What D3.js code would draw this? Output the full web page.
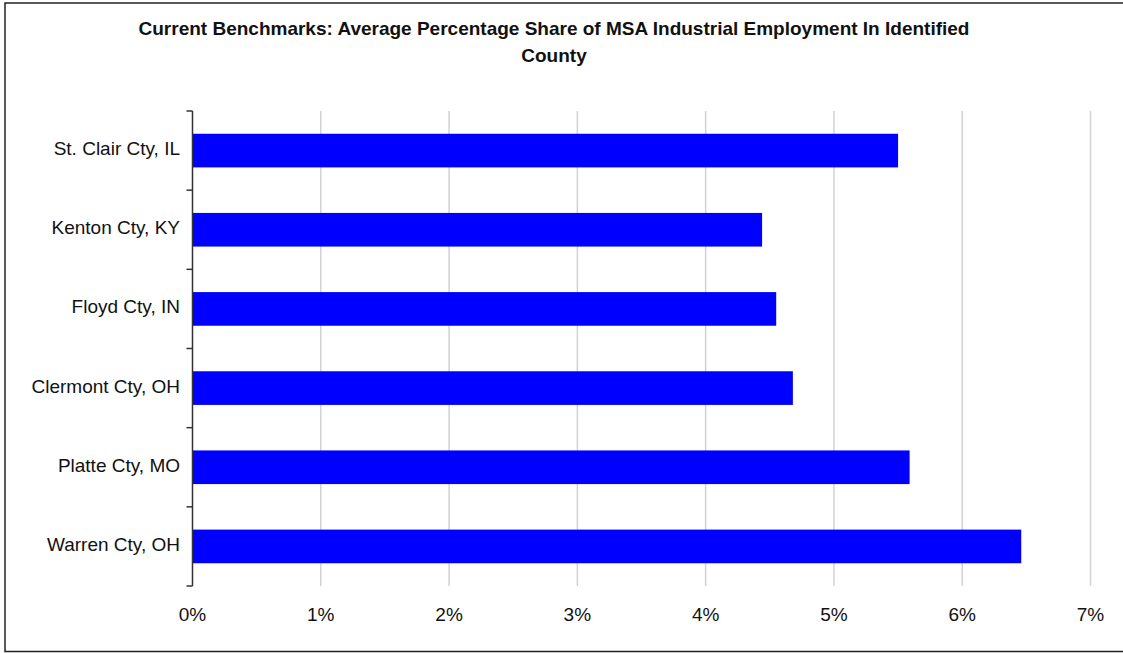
<!DOCTYPE html>
<html>
<head>
<meta charset="utf-8">
<script src="https://cdn.jsdelivr.net/npm/d3@7"></script>
<style>
  body { margin: 0; background: #fff; }
  svg { display: block; font-family: "Liberation Sans", Arial, sans-serif; }
</style>
</head>
<body>
<div id="chart"></div>
<script>
let width = 1123;
let height = 653;

// data, top to bottom as shown
let counties = ['St. Clair Cty, IL', 'Kenton Cty, KY', 'Floyd Cty, IN', 'Clermont Cty, OH', 'Platte Cty, MO', 'Warren Cty, OH'];
let shares = [5.50, 4.44, 4.55, 4.68, 5.59, 6.46];
let xTicks = [0, 1, 2, 3, 4, 5, 6, 7];
let titleLines = ['Current Benchmarks: Average Percentage Share of MSA Industrial Employment In Identified', 'County'];

let data = counties.map((c, i) => ({ county: c, value: shares[i] }));

let plot = { left: 192.5, right: 1090.5, top: 111, bottom: 586 };

let svg = d3.select('#chart')
    .append('svg')
    .attr('width', width)
    .attr('height', height);

// outer frame (right edge runs off the picture)
svg.append('rect')
    .attr('x', 5)
    .attr('y', 3)
    .attr('width', 1140)
    .attr('height', 648.5)
    .attr('fill', '#fff')
    .attr('stroke', '#222')
    .attr('stroke-width', 1.5);

let xScale = d3.scaleLinear()
    .domain([0, 7])
    .range([plot.left, plot.right]);

let yScale = d3.scaleBand()
    .domain(counties)
    .range([plot.top, plot.bottom])
    .paddingInner(0.575)
    .paddingOuter(0.2875);

// gridlines
svg.append('g')
    .selectAll('line')
    .data(xTicks.slice(1))
    .enter()
    .append('line')
    .attr('x1', d => xScale(d))
    .attr('x2', d => xScale(d))
    .attr('y1', plot.top)
    .attr('y2', plot.bottom)
    .attr('stroke', '#d2d2d2')
    .attr('stroke-width', 1.5);

// bars
svg.append('g')
    .selectAll('rect')
    .data(data)
    .enter()
    .append('rect')
    .attr('x', xScale(0))
    .attr('y', d => yScale(d.county))
    .attr('width', d => xScale(d.value) - xScale(0))
    .attr('height', yScale.bandwidth())
    .attr('fill', '#0000ff');

// y axis line + ticks at category boundaries
let step = yScale.step();
let bounds = d3.range(counties.length + 1).map(i => plot.top + i * step);

svg.append('line')
    .attr('x1', plot.left)
    .attr('x2', plot.left)
    .attr('y1', plot.top)
    .attr('y2', plot.bottom)
    .attr('stroke', '#333')
    .attr('stroke-width', 1.5);

svg.append('g')
    .selectAll('line')
    .data(bounds)
    .enter()
    .append('line')
    .attr('x1', plot.left - 6)
    .attr('x2', plot.left)
    .attr('y1', d => d)
    .attr('y2', d => d)
    .attr('stroke', '#333')
    .attr('stroke-width', 1.5);

// category labels
svg.append('g')
    .selectAll('text')
    .data(counties)
    .enter()
    .append('text')
    .attr('x', 180)
    .attr('y', d => yScale(d) + yScale.bandwidth() / 2 + 4.5)
    .attr('text-anchor', 'end')
    .attr('font-size', 19)
    .attr('fill', '#111')
    .text(d => d);

// x tick labels
svg.append('g')
    .selectAll('text')
    .data(xTicks)
    .enter()
    .append('text')
    .attr('x', d => xScale(d))
    .attr('y', 621)
    .attr('text-anchor', 'middle')
    .attr('font-size', 19)
    .attr('fill', '#111')
    .text(d => d + '%');

// title
svg.append('g')
    .selectAll('text')
    .data(titleLines)
    .enter()
    .append('text')
    .attr('x', 554)
    .attr('y', (d, i) => 35 + i * 27)
    .attr('text-anchor', 'middle')
    .attr('font-size', 19)
    .attr('font-weight', 'bold')
    .attr('fill', '#111')
    .text(d => d);
</script>
</body>
</html>
